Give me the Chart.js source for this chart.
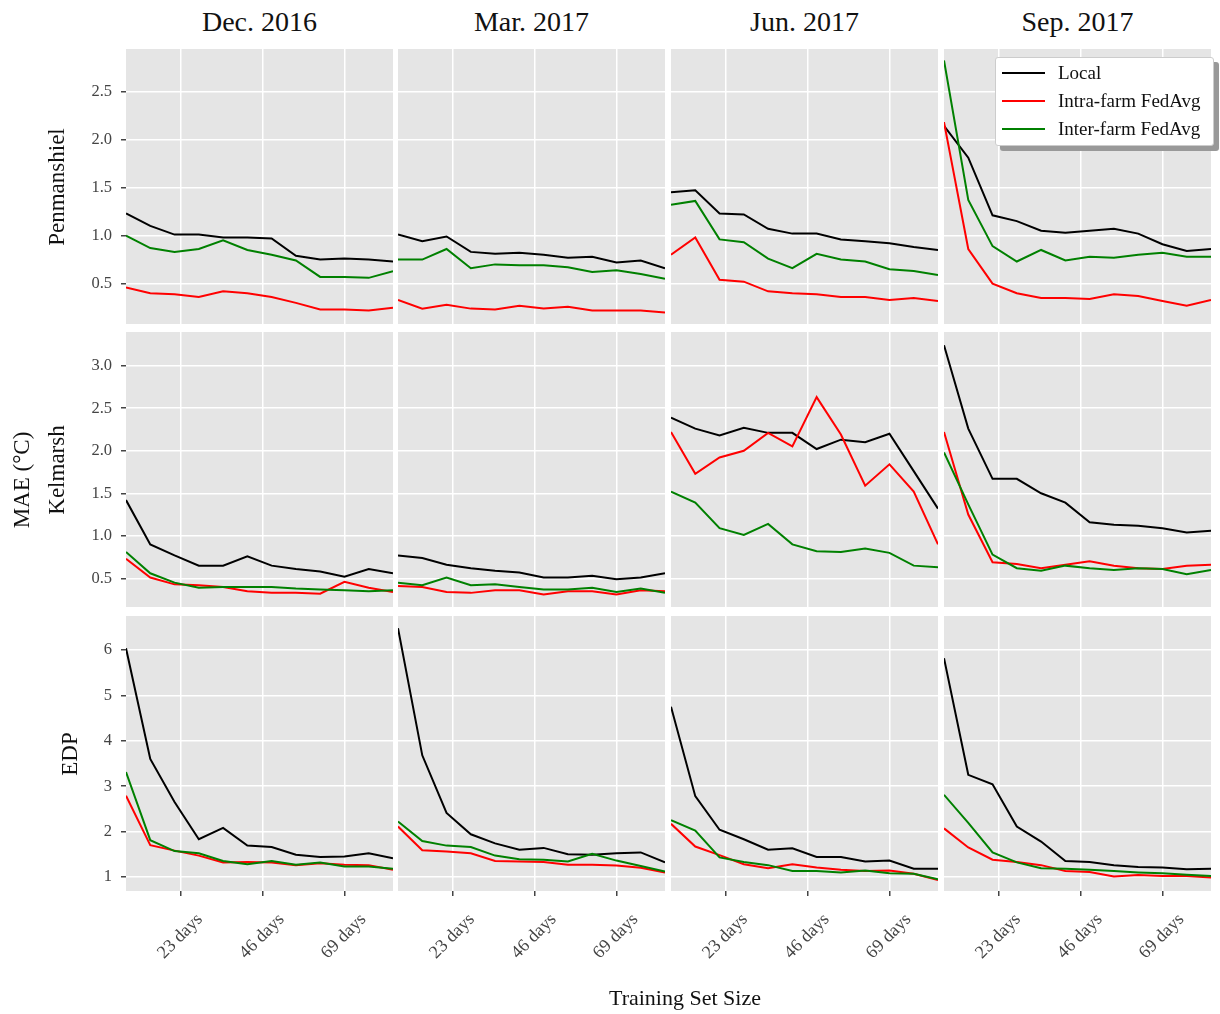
<!DOCTYPE html>
<html>
<head>
<meta charset="utf-8">
<script src="https://cdn.jsdelivr.net/npm/chart.js@4.4.1/dist/chart.umd.min.js"></script>
<style>
  body { margin: 0; background: #fff; width: 1220px; height: 1014px; position: relative; overflow: hidden; font-family: "Liberation Serif", serif; color: #111; }
  canvas { position: absolute; }
  .lbl { position: absolute; text-align: center; white-space: nowrap; }
  .rot { transform: rotate(-90deg); }
  #legend { position: absolute; z-index: 10; left: 995px; top: 57px; width: 219px; height: 89px; background: #fff; border: 1px solid #ccc; border-radius: 3px; box-shadow: 5px 5px 0 #999; box-sizing: border-box; padding-top: 1px; }
  #legend .row { height: 28px; display: flex; align-items: center; font-size: 19px; }
  #legend .sw { width: 43px; height: 2px; margin: 0 13px 0 6px; }
</style>
</head>
<body>
<div id="legend"></div>
<script>
const months = ['Dec. 2016', 'Mar. 2017', 'Jun. 2017', 'Sep. 2017'];
const farms = ['Penmanshiel', 'Kelmarsh', 'EDP'];
const methods = ['Local', 'Intra-farm FedAvg', 'Inter-farm FedAvg'];
const colors = ['#000000', '#ff0000', '#008000'];

// training set size in days (x of each point)
const trainDays = [7.53, 14.36, 21.19, 28.02, 34.85, 41.68, 48.51, 55.34, 62.17, 69.0, 75.83, 82.66];
const dayTicks = [23, 46, 69];

// one inner array per month: Dec, Mar, Jun, Sep
const penLocal = [
  [1.23, 1.10, 1.01, 1.01, 0.98, 0.98, 0.97, 0.79, 0.75, 0.76, 0.75, 0.73],
  [1.01, 0.94, 0.99, 0.83, 0.81, 0.82, 0.80, 0.77, 0.78, 0.72, 0.74, 0.66],
  [1.45, 1.47, 1.23, 1.22, 1.07, 1.02, 1.02, 0.96, 0.94, 0.92, 0.88, 0.85],
  [2.14, 1.81, 1.21, 1.15, 1.05, 1.03, 1.05, 1.07, 1.02, 0.91, 0.84, 0.86],
];
const penIntra = [
  [0.46, 0.40, 0.39, 0.36, 0.42, 0.40, 0.36, 0.30, 0.23, 0.23, 0.22, 0.25],
  [0.33, 0.24, 0.28, 0.24, 0.23, 0.27, 0.24, 0.26, 0.22, 0.22, 0.22, 0.20],
  [0.80, 0.98, 0.54, 0.52, 0.42, 0.40, 0.39, 0.36, 0.36, 0.33, 0.35, 0.32],
  [2.18, 0.86, 0.50, 0.40, 0.35, 0.35, 0.34, 0.39, 0.37, 0.32, 0.27, 0.33],
];
const penInter = [
  [1.00, 0.87, 0.83, 0.86, 0.95, 0.85, 0.80, 0.74, 0.57, 0.57, 0.56, 0.63],
  [0.75, 0.75, 0.86, 0.66, 0.70, 0.69, 0.69, 0.67, 0.62, 0.64, 0.60, 0.55],
  [1.32, 1.36, 0.96, 0.93, 0.76, 0.66, 0.81, 0.75, 0.73, 0.65, 0.63, 0.59],
  [2.82, 1.37, 0.89, 0.73, 0.85, 0.74, 0.78, 0.77, 0.80, 0.82, 0.78, 0.78],
];
const kelLocal = [
  [1.42, 0.90, 0.77, 0.65, 0.65, 0.76, 0.65, 0.61, 0.58, 0.52, 0.61, 0.56],
  [0.77, 0.74, 0.66, 0.62, 0.59, 0.57, 0.51, 0.51, 0.53, 0.49, 0.51, 0.56],
  [2.39, 2.26, 2.18, 2.27, 2.21, 2.21, 2.02, 2.13, 2.10, 2.20, 1.76, 1.32],
  [3.24, 2.26, 1.67, 1.67, 1.50, 1.39, 1.16, 1.13, 1.12, 1.09, 1.04, 1.06],
];
const kelIntra = [
  [0.73, 0.51, 0.43, 0.42, 0.40, 0.35, 0.33, 0.33, 0.32, 0.46, 0.39, 0.34],
  [0.41, 0.40, 0.34, 0.33, 0.36, 0.36, 0.31, 0.35, 0.35, 0.31, 0.36, 0.35],
  [2.22, 1.73, 1.92, 2.00, 2.21, 2.05, 2.63, 2.19, 1.59, 1.84, 1.52, 0.90],
  [2.22, 1.25, 0.69, 0.67, 0.62, 0.66, 0.70, 0.65, 0.62, 0.61, 0.65, 0.66],
];
const kelInter = [
  [0.81, 0.56, 0.45, 0.39, 0.40, 0.40, 0.40, 0.38, 0.37, 0.36, 0.35, 0.36],
  [0.45, 0.42, 0.51, 0.42, 0.43, 0.40, 0.37, 0.37, 0.39, 0.34, 0.38, 0.33],
  [1.52, 1.39, 1.09, 1.01, 1.14, 0.90, 0.82, 0.81, 0.85, 0.80, 0.65, 0.63],
  [1.98, 1.37, 0.78, 0.62, 0.59, 0.65, 0.62, 0.60, 0.62, 0.61, 0.55, 0.60],
];
const edpLocal = [
  [6.04, 3.60, 2.65, 1.83, 2.08, 1.69, 1.66, 1.49, 1.44, 1.45, 1.52, 1.41],
  [6.48, 3.68, 2.41, 1.94, 1.74, 1.60, 1.64, 1.50, 1.49, 1.52, 1.54, 1.32],
  [4.75, 2.78, 2.04, 1.83, 1.60, 1.63, 1.44, 1.44, 1.34, 1.36, 1.18, 1.18],
  [5.82, 3.25, 3.04, 2.11, 1.78, 1.35, 1.33, 1.26, 1.22, 1.21, 1.17, 1.18],
];
const edpIntra = [
  [2.79, 1.70, 1.58, 1.47, 1.32, 1.33, 1.32, 1.26, 1.30, 1.27, 1.26, 1.16],
  [2.11, 1.59, 1.56, 1.52, 1.35, 1.34, 1.33, 1.27, 1.27, 1.25, 1.20, 1.10],
  [2.17, 1.67, 1.48, 1.28, 1.19, 1.28, 1.21, 1.16, 1.13, 1.14, 1.07, 0.93],
  [2.07, 1.65, 1.38, 1.33, 1.26, 1.13, 1.11, 1.01, 1.04, 1.02, 1.02, 0.99],
];
const edpInter = [
  [3.31, 1.81, 1.57, 1.52, 1.35, 1.28, 1.35, 1.27, 1.32, 1.23, 1.23, 1.18],
  [2.22, 1.79, 1.69, 1.66, 1.47, 1.39, 1.38, 1.34, 1.51, 1.36, 1.24, 1.12],
  [2.25, 2.02, 1.43, 1.33, 1.26, 1.13, 1.13, 1.10, 1.14, 1.08, 1.07, 0.95],
  [2.81, 2.19, 1.54, 1.32, 1.19, 1.18, 1.16, 1.13, 1.10, 1.08, 1.05, 1.02],
];

const yTicks = [
  [0.5, 1.0, 1.5, 2.0, 2.5],
  [0.5, 1.0, 1.5, 2.0, 2.5, 3.0],
  [1, 2, 3, 4, 5, 6],
];
const yLimits = [[0.08, 2.94], [0.164, 3.395], [0.69, 6.75]];

const series = [
  [penLocal, penIntra, penInter],
  [kelLocal, kelIntra, kelInter],
  [edpLocal, edpIntra, edpInter],
];

// layout of the facet grid
const colLeft = [126, 398, 671, 944];
const rowTop = [49, 332, 616];
const panelW = 267;
const panelH = 275;
const yAxisW = 60;
const xAxisH = 90;

const panelBg = {
  id: 'panelBg',
  beforeDraw(chart) {
    const { ctx, chartArea: a } = chart;
    ctx.save();
    ctx.fillStyle = '#e5e5e5';
    ctx.fillRect(a.left, a.top, a.width, a.height);
    ctx.restore();
  },
};

function noPad(s) {
  s.paddingLeft = 0; s.paddingRight = 0; s.paddingTop = 0; s.paddingBottom = 0;
}

farms.forEach((farm, r) => {
  months.forEach((month, c) => {
    const w = panelW + (c === 0 ? yAxisW : 0);
    const h = panelH + (r === 2 ? xAxisH : 0);
    const cv = document.createElement('canvas');
    cv.width = w;
    cv.height = h;
    cv.style.width = w + 'px';
    cv.style.height = h + 'px';
    cv.style.left = (colLeft[c] - (c === 0 ? yAxisW : 0)) + 'px';
    cv.style.top = rowTop[r] + 'px';
    document.body.appendChild(cv);

    new Chart(cv, {
      type: 'line',
      data: {
        datasets: methods.map((name, k) => ({
          label: name,
          data: trainDays.map((d, i) => ({ x: d, y: series[r][k][c][i] })),
          borderColor: colors[k],
          borderWidth: 2,
          pointRadius: 0,
          tension: 0,
          clip: 0,
          order: 2 - k,
        })),
      },
      options: {
        responsive: false,
        animation: false,
        events: [],
        layout: { padding: 0 },
        plugins: { legend: { display: false }, tooltip: { enabled: false } },
        scales: {
          x: {
            type: 'linear',
            min: trainDays[0],
            max: trainDays[trainDays.length - 1],
            afterBuildTicks: (s) => { s.ticks = dayTicks.map((v) => ({ value: v })); },
            afterFit: (s) => { s.height = r === 2 ? xAxisH : 0; noPad(s); },
            border: { display: false },
            grid: { color: '#ffffff', lineWidth: 1.5, drawTicks: r === 2, tickLength: 5, tickColor: '#444' },
            ticks: {
              display: r === 2,
              autoSkip: false,
              minRotation: 45,
              maxRotation: 45,
              labelOffset: 19,
              padding: 13,
              color: '#444',
              font: { family: 'Liberation Serif', size: 18 },
              callback: (v) => v + ' days',
            },
          },
          y: {
            min: yLimits[r][0],
            max: yLimits[r][1],
            afterBuildTicks: (s) => { s.ticks = yTicks[r].map((v) => ({ value: v })); },
            afterFit: (s) => { s.width = c === 0 ? yAxisW : 0; noPad(s); },
            border: { display: false },
            grid: { color: '#ffffff', lineWidth: 1.5, drawTicks: c === 0, tickLength: 5, tickColor: '#444' },
            ticks: {
              display: c === 0,
              padding: 9,
              color: '#444',
              font: { family: 'Liberation Serif', size: 16.5 },
              callback: (v) => (r === 2 ? String(v) : v.toFixed(1)),
            },
          },
        },
      },
      plugins: [panelBg],
    });
  });
});

function addLabel(text, cx, cy, size, rotate) {
  const d = document.createElement('div');
  d.className = 'lbl' + (rotate ? ' rot' : '');
  d.textContent = text;
  d.style.fontSize = size + 'px';
  d.style.width = '300px';
  d.style.height = '36px';
  d.style.lineHeight = '36px';
  d.style.left = (cx - 150) + 'px';
  d.style.top = (cy - 18) + 'px';
  document.body.appendChild(d);
}

months.forEach((m, c) => addLabel(m, colLeft[c] + panelW / 2, 22, 28, false));
const farmLabelX = [57, 57, 70];
farms.forEach((f, r) => addLabel(f, farmLabelX[r], rowTop[r] + panelH / 2, 23, true));
addLabel('MAE (°C)', 22, 480, 23, true);
addLabel('Training Set Size', 685, 998, 22, false);

const legend = document.getElementById('legend');
methods.forEach((name, k) => {
  const row = document.createElement('div');
  row.className = 'row';
  const sw = document.createElement('span');
  sw.className = 'sw';
  sw.style.background = colors[k];
  row.appendChild(sw);
  row.appendChild(document.createTextNode(name));
  legend.appendChild(row);
});
</script>
</body>
</html>
